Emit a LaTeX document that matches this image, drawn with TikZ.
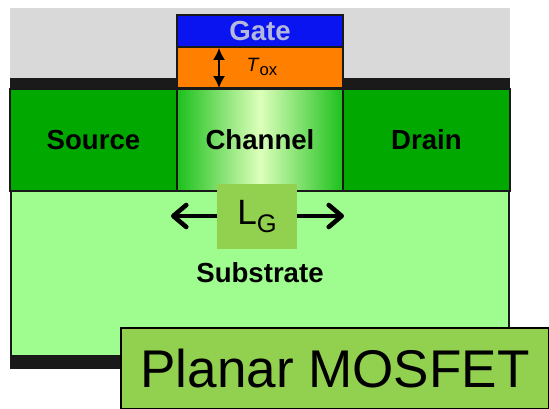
\documentclass[tikz,border=0pt]{standalone}
\usepackage{fontspec}
\setmainfont{Liberation Sans}
\usetikzlibrary{arrows.meta, positioning}
\definecolor{bandblack}{HTML}{1A1A1A}
\definecolor{sidegreen}{HTML}{00A800}
\definecolor{subgreen}{HTML}{9FFD8F}
\definecolor{labelgreen}{HTML}{92D050}
\definecolor{oxorange}{HTML}{FF8000}
\definecolor{gateblue}{HTML}{0A14F0}
\definecolor{gatetext}{HTML}{B4B8DC}
\definecolor{chanlight}{HTML}{DDFFBB}
\definecolor{chandark}{HTML}{1CC01C}
\begin{document}
\begin{tikzpicture}[
  x=0.02cm, y=-0.02cm,
  region/.style={draw=black!90, line width=0.8pt, anchor=north west, inner sep=0pt, outer sep=0pt, align=center},
  tag/.style={font=\bfseries\fontsize{15.7}{16}\selectfont},
  labelbox/.style={fill=labelgreen, inner sep=0pt, outer sep=0pt},
  bigarrow/.style={-{Straight Barb[length=2.6mm,width=4.4mm,round]}, line width=2.6pt, black}
]
  \useasboundingbox (0,0) rectangle (549,409);
  % backdrop and dark bands
  \node[anchor=north west, fill=black!15, inner sep=0pt, minimum width=10cm, minimum height=1.5cm] (sky) at (10,8) {};
  \node[anchor=north west, fill=bandblack, inner sep=0pt, minimum width=10cm, minimum height=0.24cm] (topband) at (10,78) {};
  \node[anchor=north west, fill=bandblack, inner sep=0pt, minimum width=10cm, minimum height=0.26cm] (botband) at (10,356) {};

  \node[region, fill=gateblue, minimum width=3.32cm, minimum height=0.64cm, tag, text=gatetext] (gate) at (177,15) {Gate};
  \node[region, fill=oxorange, minimum width=3.32cm, minimum height=0.82cm] (oxide) at (177,47) {};
  \node[region, fill=sidegreen, minimum width=3.34cm, minimum height=2.04cm, tag] (source) at (10,89) {Source};
  \node[region, left color=chandark, right color=chandark, middle color=chanlight, minimum width=3.32cm, minimum height=2.04cm, tag] (channel) at (177,89) {Channel};
  \node[region, fill=sidegreen, minimum width=3.34cm, minimum height=2.04cm, tag] (drain) at (343,89) {Drain};
  \node[region, fill=subgreen, minimum width=9.96cm, minimum height=3.3cm] (substrate) at (11,191) {};
  \node[tag] (subtext) at (260,273) {Substrate};

  \node[font=\fontsize{11}{12}\selectfont] (tox) at (262,67) {\textit{T}\raisebox{-0.4ex}{\fontsize{9.5}{10}\selectfont ox}};
  \coordinate (toxtop) at (219,48);
  \coordinate (toxbot) at (219,88);
  \draw[{Latex[length=2.4mm,width=2.4mm]}-{Latex[length=2.4mm,width=2.4mm]}, line width=0.8pt] (toxtop) -- (toxbot);

  \node[labelbox, minimum width=1.6cm, minimum height=1.3cm, font=\fontsize{20}{21}\selectfont] (lg) at (257,216.5) {L\raisebox{-0.45ex}{\fontsize{14.5}{15}\selectfont G}};
  \coordinate (lgleft) at (171,216);
  \coordinate (lgright) at (344,216);
  \draw[bigarrow] (lg.west |- lgleft) -- (lgleft);
  \draw[bigarrow] (lg.east |- lgright) -- (lgright);

  \node[labelbox, draw=black, line width=1pt, anchor=north west, minimum width=8.56cm, minimum height=1.62cm, font=\fontsize{30.2}{31}\selectfont] (title) at (121,328) {Planar MOSFET};
\end{tikzpicture}
\end{document}
